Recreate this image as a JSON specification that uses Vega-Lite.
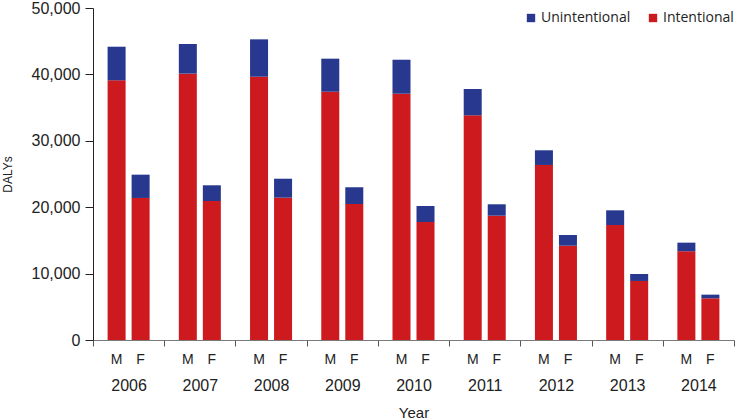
{
  "$schema": "https://vega.github.io/schema/vega-lite/v6.json",
  "width": 641,
  "height": 332,
  "autosize": {"type": "none"},
  "padding": {"left": 93, "top": 8, "right": 2, "bottom": 80},
  "config": {"view": {"stroke": null}, "font": "Liberation Sans"},
  "data": {"values": [
    {"year": "2006", "sex": "M", "type": "Intentional", "dalys": 39110},
    {"year": "2006", "sex": "M", "type": "Unintentional", "dalys": 5060},
    {"year": "2006", "sex": "F", "type": "Intentional", "dalys": 21390},
    {"year": "2006", "sex": "F", "type": "Unintentional", "dalys": 3510},
    {"year": "2007", "sex": "M", "type": "Intentional", "dalys": 40110},
    {"year": "2007", "sex": "M", "type": "Unintentional", "dalys": 4470},
    {"year": "2007", "sex": "F", "type": "Intentional", "dalys": 20930},
    {"year": "2007", "sex": "F", "type": "Unintentional", "dalys": 2370},
    {"year": "2008", "sex": "M", "type": "Intentional", "dalys": 39650},
    {"year": "2008", "sex": "M", "type": "Unintentional", "dalys": 5630},
    {"year": "2008", "sex": "F", "type": "Intentional", "dalys": 21430},
    {"year": "2008", "sex": "F", "type": "Unintentional", "dalys": 2860},
    {"year": "2009", "sex": "M", "type": "Intentional", "dalys": 37390},
    {"year": "2009", "sex": "M", "type": "Unintentional", "dalys": 4980},
    {"year": "2009", "sex": "F", "type": "Intentional", "dalys": 20480},
    {"year": "2009", "sex": "F", "type": "Unintentional", "dalys": 2520},
    {"year": "2010", "sex": "M", "type": "Intentional", "dalys": 37090},
    {"year": "2010", "sex": "M", "type": "Unintentional", "dalys": 5120},
    {"year": "2010", "sex": "F", "type": "Intentional", "dalys": 17770},
    {"year": "2010", "sex": "F", "type": "Unintentional", "dalys": 2410},
    {"year": "2011", "sex": "M", "type": "Intentional", "dalys": 33840},
    {"year": "2011", "sex": "M", "type": "Unintentional", "dalys": 3960},
    {"year": "2011", "sex": "F", "type": "Intentional", "dalys": 18720},
    {"year": "2011", "sex": "F", "type": "Unintentional", "dalys": 1720},
    {"year": "2012", "sex": "M", "type": "Intentional", "dalys": 26360},
    {"year": "2012", "sex": "M", "type": "Unintentional", "dalys": 2210},
    {"year": "2012", "sex": "F", "type": "Intentional", "dalys": 14200},
    {"year": "2012", "sex": "F", "type": "Unintentional", "dalys": 1610},
    {"year": "2013", "sex": "M", "type": "Intentional", "dalys": 17320},
    {"year": "2013", "sex": "M", "type": "Unintentional", "dalys": 2210},
    {"year": "2013", "sex": "F", "type": "Intentional", "dalys": 8890},
    {"year": "2013", "sex": "F", "type": "Unintentional", "dalys": 1050},
    {"year": "2014", "sex": "M", "type": "Intentional", "dalys": 13360},
    {"year": "2014", "sex": "M", "type": "Unintentional", "dalys": 1300},
    {"year": "2014", "sex": "F", "type": "Intentional", "dalys": 6280},
    {"year": "2014", "sex": "F", "type": "Unintentional", "dalys": 550}
  ]},
  "encoding": {
    "x": {
      "field": "year", "type": "nominal",
      "scale": {"paddingInner": 0, "paddingOuter": 0},
      "axis": {
        "title": "Year", "tickBand": "extent", "labelAngle": 0,
        "domainColor": "#7a7a7a", "tickColor": "#555555", "tickSize": 6,
        "labelPadding": 31, "labelFontSize": 16, "labelColor": "#222222",
        "titleFontSize": 15, "titleFontWeight": "normal", "titleColor": "#222222",
        "titlePadding": 12, "labelFont": "Liberation Sans", "titleFont": "Liberation Sans"
      }
    },
    "xOffset": {
      "field": "sex", "type": "nominal", "sort": ["M", "F"],
      "scale": {"paddingInner": 0.25, "paddingOuter": 0.608}
    }
  },
  "layer": [
    {
      "mark": {"type": "bar"},
      "encoding": {
        "y": {
          "field": "dalys", "type": "quantitative", "stack": "zero",
          "scale": {"domain": [0, 50000], "nice": false},
          "axis": {
            "title": "DALYs", "grid": false, "values": [0, 10000, 20000, 30000, 40000, 50000],
            "format": ",.0f", "tickSize": 8, "labelPadding": 5, "labelFontSize": 16,
            "labelColor": "#222222", "domainColor": "#222222", "tickColor": "#222222",
            "titleFontSize": 12, "titleFontWeight": "normal", "titleColor": "#222222",
            "titlePadding": 17
          }
        },
        "color": {
          "field": "type", "type": "nominal",
          "scale": {"domain": ["Unintentional", "Intentional"], "range": ["#28388f", "#cd1a1f"]},
          "legend": {
            "title": null, "orient": "none", "direction": "horizontal",
            "legendX": 431, "legendY": 3, "symbolType": "square", "symbolSize": 70,
            "symbolStrokeWidth": 0, "labelFont": "Open Sans", "labelFontSize": 14,
            "labelColor": "#222222", "columnPadding": 15, "labelOffset": 3, "padding": 0
          }
        },
        "order": {"field": "type", "sort": "ascending"}
      }
    },
    {
      "transform": [{"filter": "datum.type == 'Intentional'"}],
      "mark": {"type": "text", "fontSize": 14, "baseline": "middle", "color": "#222222"},
      "encoding": {
        "y": {"datum": -2940, "type": "quantitative"},
        "text": {"field": "sex"}
      }
    }
  ]
}
